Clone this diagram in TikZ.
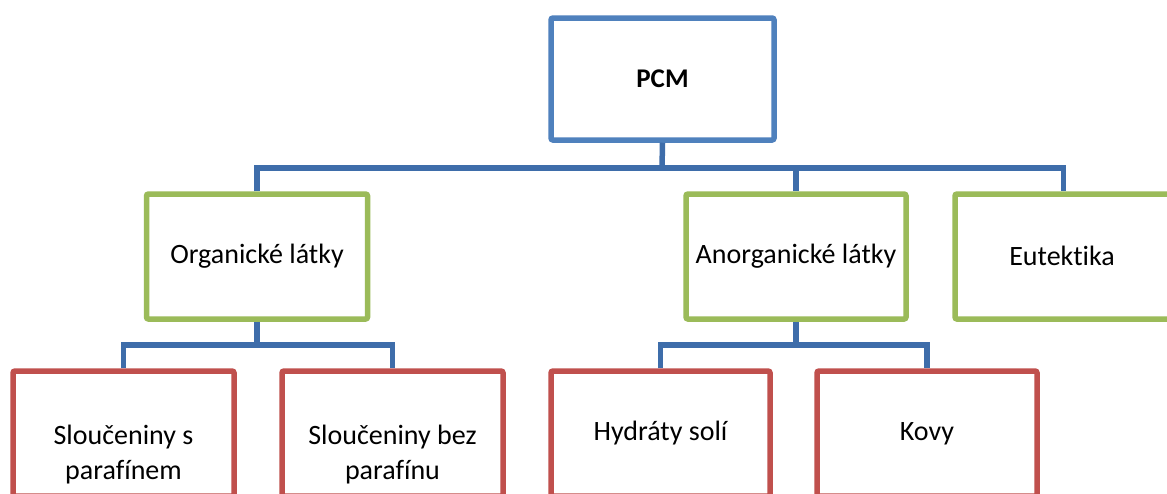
\documentclass[tikz,border=0pt]{standalone}
\usepackage{fontspec}
\setmainfont{Carlito}[Ligatures=NoCommon]
\definecolor{boxblue}{HTML}{4F81BD}
\definecolor{linkblue}{HTML}{3E6DAA}
\definecolor{boxgreen}{HTML}{9BBB59}
\definecolor{boxred}{HTML}{C0504D}
\tikzset{
  box/.style={draw, line width=5.5pt, rounded corners=2pt, fill=white, inner sep=0pt,
    font=\fontsize{28}{35}\selectfont, align=center},
  topbox/.style={box, draw=boxblue, minimum width=223pt, minimum height=122pt},
  midbox/.style={box, draw=boxgreen, minimum width=221pt, minimum height=125pt},
  lowbox/.style={box, draw=boxred, minimum width=221pt, minimum height=125pt},
  txt/.style={inner sep=0pt, font=\fontsize{28}{35}\selectfont, align=center},
  link/.style={draw=linkblue, line width=5.5pt}
}
\begin{document}
\begin{tikzpicture}[x=1pt,y=-1pt]
\useasboundingbox (0,0) rectangle (1167,493);
\clip (0,0) rectangle (1167,493);
\fill[white] (0,0) rectangle (1167,493);
% junction points
\coordinate (j1) at (662,168);
\coordinate (j2) at (257,345);
\coordinate (j3) at (796,345);
% nodes
\node[topbox, font=\fontsize{27}{33}\selectfont\bfseries] (pcm) at (662.5,79) {PCM};
\node[midbox] (org) at (257,256.5) {Organické látky};
\node[midbox, minimum width=220pt] (anorg) at (796,256.5) {Anorganické látky};
\node[midbox, minimum width=217pt] (eut) at (1063.5,256.5) {};
\node[txt] (eutt) at (1062,256) {Eutektika};
\node[lowbox] (s1) at (123.5,433.5) {};
\node[txt] (s1t) at (123.5,455) {Sloučeniny s\\parafínem};
\node[lowbox] (s2) at (392.5,433.5) {};
\node[txt] (s2t) at (392.5,455) {Sloučeniny bez\\parafínu};
\node[lowbox, minimum width=219pt] (h) at (660.5,433.5) {Hydráty solí};
\node[lowbox, minimum width=220pt] (k) at (927,433.5) {Kovy};
% links
\draw[link] (pcm.south) -- (j1);
\draw[link] (org.north) |- (j1) -| (eut.north);
\draw[link] (j1) -| (anorg.north);
\draw[link] (org.south) -- (j2);
\draw[link] (s1.north) |- (j2) -| (s2.north);
\draw[link] (anorg.south) -- (j3);
\draw[link] (h.north) |- (j3) -| (k.north);
\end{tikzpicture}
\end{document}
